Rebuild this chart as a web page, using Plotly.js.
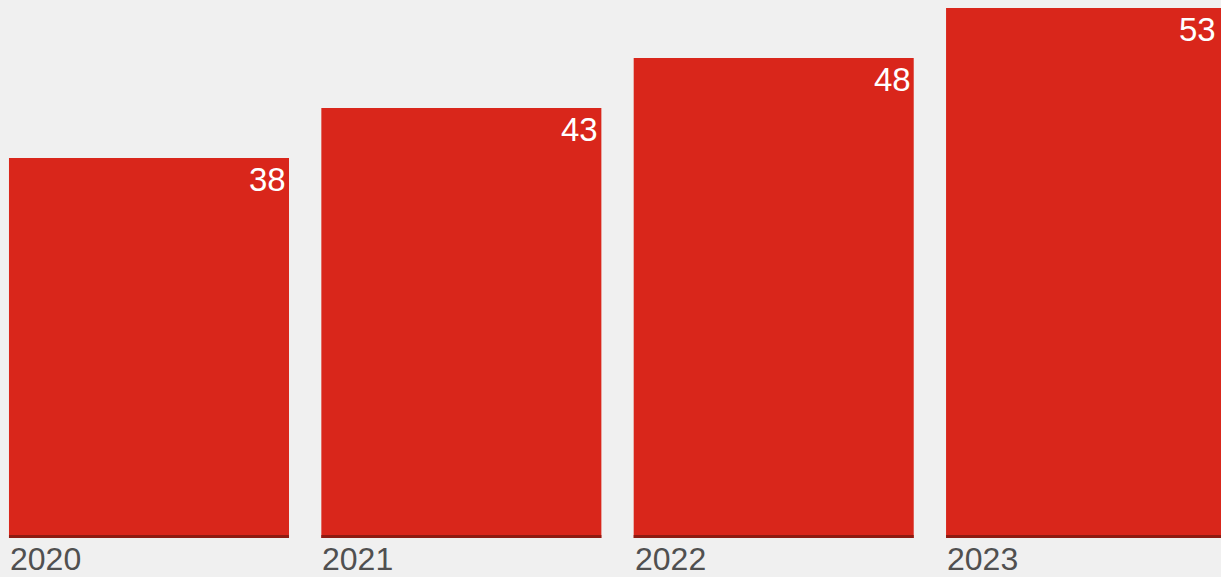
<!DOCTYPE html>
<html>
<head>
<meta charset="utf-8">
<script src="https://cdn.plot.ly/plotly-3.0.1.min.js"></script>
<style>html,body{margin:0;padding:0;background:#f0f0f0;overflow:hidden}#chart{width:1221px;height:577px}</style>
</head>
<body>
<div id="chart"></div>
<script>
const years = ["2020", "2021", "2022", "2023"];
const values = [38, 43, 48, 53];

const barWidth = 0.8965;
const xRange = [-0.477, 3.432];
const pxPerUnit = 1221 / (xRange[1] - xRange[0]);
const idx = years.map((_, i) => i);

const main = {
  type: "bar", x: idx, y: values, width: barWidth,
  marker: { color: "#d9261b", line: { width: 0 } },
  hoverinfo: "skip"
};
const baseStrip = {
  type: "bar", x: idx, y: values.map(() => 0.3), width: barWidth,
  marker: { color: "#8e1b12", line: { width: 0 } },
  hoverinfo: "skip"
};

const annotations = [];
const back = 0.2;
years.forEach((yr, i) => {
  annotations.push({
    x: i - barWidth / 2, y: 0, xref: "x", yref: "paper",
    xanchor: "left", yanchor: "top", xshift: -1, yshift: -1,
    text: yr, showarrow: false,
    font: { family: "Liberation Sans, Arial, sans-serif", size: 32, color: "#505050" }
  });
  // right edge of the bar, kept inside the visible plot area
  const rightEdge = Math.min(i + barWidth / 2, xRange[1] - 2 / pxPerUnit);
  annotations.push({
    x: rightEdge - back, y: values[i], xref: "x", yref: "y",
    xanchor: "right", yanchor: "top", xshift: back * pxPerUnit - 1, yshift: -1,
    text: String(values[i]), showarrow: false,
    font: { family: "Liberation Sans, Arial, sans-serif", size: 33, color: "#ffffff" }
  });
});

const layout = {
  width: 1221, height: 577,
  margin: { l: 0, r: 0, t: 0, b: 39, pad: 0 },
  paper_bgcolor: "#f0f0f0", plot_bgcolor: "#f0f0f0",
  barmode: "overlay", showlegend: false,
  xaxis: { range: xRange, showticklabels: false, showgrid: false, zeroline: false, ticks: "", fixedrange: true },
  yaxis: { range: [0, 53.8], showticklabels: false, showgrid: false, zeroline: false, ticks: "", fixedrange: true },
  annotations: annotations
};

Plotly.newPlot("chart", [main, baseStrip], layout, { displayModeBar: false, staticPlot: true });
</script>
</body>
</html>
